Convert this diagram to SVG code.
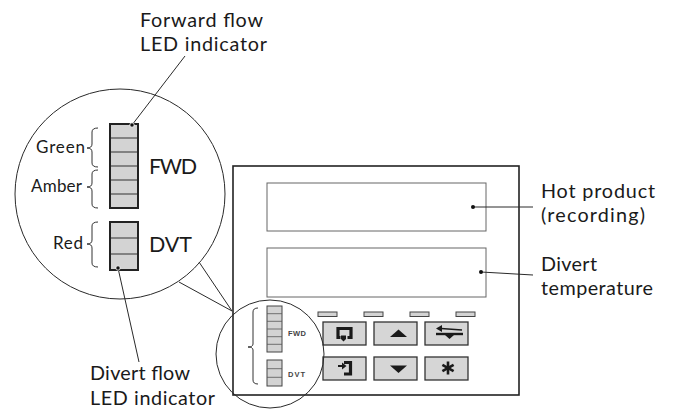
<svg xmlns="http://www.w3.org/2000/svg" width="677" height="410" viewBox="0 0 677 410">
<style>
.lbl{font-family:Lato,"Open Sans","Liberation Sans",sans-serif;font-size:19.8px;fill:#1a1a1a}
.sm{font-family:Lato,"Open Sans","Liberation Sans",sans-serif;font-size:17px;fill:#1a1a1a}
.big{font-family:Lato,"Open Sans","Liberation Sans",sans-serif;font-size:21.5px;fill:#1a1a1a}
.tiny{font-family:"Liberation Sans",Arial,sans-serif;font-size:7.5px;font-weight:bold;fill:#444}
.ln{stroke:#2a2a2a;stroke-width:1;fill:none}
.brk{stroke:#333;stroke-width:1;fill:none}
.led{fill:#d3d3d3;stroke:#222;stroke-width:2}
.div{stroke:#555;stroke-width:1.3}
.sled{fill:#d3d3d3;stroke:#444;stroke-width:1}
.sdiv{stroke:#555;stroke-width:0.8}
.btn{fill:#d6d6d6;stroke:#333;stroke-width:1.3}
.ic{fill:#1a1a1a}
.dot{fill:#111}
</style>

<g id="magnifier">
  <circle cx="120" cy="194" r="105" class="ln"/>
  <g id="fwd-led-big">
    <rect x="110" y="124" width="28" height="84" class="led"/>
    <line x1="111" y1="138" x2="137" y2="138" class="div"/>
    <line x1="111" y1="152" x2="137" y2="152" class="div"/>
    <line x1="111" y1="166" x2="137" y2="166" class="div"/>
    <line x1="111" y1="180" x2="137" y2="180" class="div"/>
    <line x1="111" y1="194" x2="137" y2="194" class="div"/>
    <text x="149" y="174" class="big" textLength="48">FWD</text>
  </g>
  <g id="dvt-led-big">
    <rect x="110" y="222" width="28" height="48" class="led"/>
    <line x1="111" y1="238" x2="137" y2="238" class="div"/>
    <line x1="111" y1="254" x2="137" y2="254" class="div"/>
    <text x="149" y="252" class="big" textLength="43">DVT</text>
  </g>
  <g id="brackets">
    <path d="M98,128 Q92,128 92,132 V144 Q92,148 87,148 Q92,148 92,152 V163 Q92,167 98,167" class="brk"/>
    <path d="M98,170 Q92,170 92,174 V183 Q92,187 87,187 Q92,187 92,191 V204 Q92,208 98,208" class="brk"/>
    <path d="M98,222 Q92,222 92,226 V240 Q92,244 87,244 Q92,244 92,248 V263 Q92,267 98,267" class="brk"/>
    <text x="36" y="153" class="sm" textLength="49">Green</text>
    <text x="31" y="192" class="sm" textLength="51">Amber</text>
    <text x="53" y="249" class="sm" textLength="30">Red</text>
  </g>
</g>

<g id="device">
  <rect x="233" y="166" width="286" height="229" fill="none" stroke="#222" stroke-width="1.6"/>
  <rect x="267" y="183" width="219" height="48" fill="none" stroke="#666" stroke-width="1"/>
  <rect x="267" y="248" width="219" height="49" fill="none" stroke="#666" stroke-width="1"/>
  <g id="status-leds">
    <rect x="318" y="312" width="19" height="4.5" class="sled"/>
    <rect x="364" y="312" width="19" height="4.5" class="sled"/>
    <rect x="410" y="312" width="19" height="4.5" class="sled"/>
    <rect x="456" y="312" width="19" height="4.5" class="sled"/>
  </g>
  <g id="btn-1">
    <rect x="323" y="322" width="43" height="23" class="btn"/>
    <path d="M340.5,337.5 H338 V328.5 H351 V337.5 H347.5" fill="none" stroke="#1a1a1a" stroke-width="3.2"/>
    <path d="M341,335.5 H346 V339 L343.5,341.5 L341,339 Z" class="ic"/>
  </g>
  <g id="btn-2">
    <rect x="374" y="322" width="43" height="23" class="btn"/>
    <path d="M390,337 L407,337 L398.5,329.5 Z" class="ic"/>
  </g>
  <g id="btn-3">
    <rect x="425" y="322" width="43" height="23" class="btn"/>
    <path d="M436,328.5 L442,325 L442,332 Z" class="ic"/>
    <line x1="441" y1="328.5" x2="462" y2="330" stroke="#1a1a1a" stroke-width="1.6"/>
    <line x1="436" y1="334" x2="463" y2="334" stroke="#1a1a1a" stroke-width="2.4"/>
    <path d="M445,335 H454 L449.5,339 Z" class="ic"/>
  </g>
  <g id="btn-4">
    <rect x="323" y="357" width="43" height="23" class="btn"/>
    <path d="M344,362.5 H350.5 V374 H344" fill="none" stroke="#1a1a1a" stroke-width="3.2"/>
    <line x1="338" y1="366" x2="344" y2="366" stroke="#1a1a1a" stroke-width="2"/>
    <path d="M342,362.5 L346.5,366 L342,369.5 Z" class="ic"/>
  </g>
  <g id="btn-5">
    <rect x="374" y="357" width="43" height="23" class="btn"/>
    <path d="M390,365.5 L407,365.5 L398.5,373 Z" class="ic"/>
  </g>
  <g id="btn-6">
    <rect x="425" y="357" width="43" height="23" class="btn"/>
    <g stroke="#1a1a1a" stroke-width="2.6">
      <line x1="448" y1="361.5" x2="448" y2="374.5"/>
      <line x1="442.4" y1="364.8" x2="453.6" y2="371.2"/>
      <line x1="442.4" y1="371.2" x2="453.6" y2="364.8"/>
    </g>
  </g>
</g>

<g id="zoom-circle">
  <circle cx="270" cy="354" r="54" class="ln"/>
  <path d="M258,308 Q253,308 253,312 V344 Q253,347 248,347 Q253,347 253,350 V380 Q253,384 258,384" class="brk"/>
  <rect x="267" y="306" width="15" height="46" class="sled"/>
  <line x1="267" y1="313.7" x2="282" y2="313.7" class="sdiv"/>
  <line x1="267" y1="321.3" x2="282" y2="321.3" class="sdiv"/>
  <line x1="267" y1="329" x2="282" y2="329" class="sdiv"/>
  <line x1="267" y1="336.7" x2="282" y2="336.7" class="sdiv"/>
  <line x1="267" y1="344.3" x2="282" y2="344.3" class="sdiv"/>
  <rect x="267" y="360" width="15" height="26" class="sled"/>
  <line x1="267" y1="368.7" x2="282" y2="368.7" class="sdiv"/>
  <line x1="267" y1="377.3" x2="282" y2="377.3" class="sdiv"/>
  <text x="288" y="336" class="tiny" textLength="18">FWD</text>
  <text x="288" y="377" class="tiny" textLength="17">DVT</text>
</g>

<g id="connectors">
  <line x1="199" y1="262" x2="232" y2="311" class="ln"/>
  <line x1="179" y1="282" x2="232" y2="311" class="ln"/>
  <line x1="185" y1="56" x2="132" y2="125" class="ln"/>
  <circle cx="132" cy="125" r="2.2" class="dot" stroke="#fff" stroke-width="0.8"/>
  <line x1="118" y1="268" x2="139" y2="362" class="ln"/>
  <circle cx="118" cy="268" r="2.2" class="dot" stroke="#fff" stroke-width="0.8"/>
  <line x1="473" y1="207" x2="533" y2="207" class="ln"/>
  <circle cx="473" cy="207" r="2" class="dot"/>
  <line x1="481" y1="272" x2="533" y2="275" class="ln"/>
  <circle cx="481" cy="272" r="2" class="dot"/>
</g>

<g id="labels">
  <text x="140" y="27" class="lbl" textLength="123">Forward flow</text>
  <text x="140" y="51" class="lbl" textLength="127">LED indicator</text>
  <text x="90" y="380" class="lbl" textLength="100">Divert flow</text>
  <text x="90" y="405" class="lbl" textLength="125">LED indicator</text>
  <text x="541" y="198" class="lbl" textLength="114">Hot product</text>
  <text x="541" y="222" class="lbl" textLength="104">(recording)</text>
  <text x="541" y="271" class="lbl" textLength="56">Divert</text>
  <text x="541" y="295" class="lbl" textLength="112">temperature</text>
</g>
</svg>
